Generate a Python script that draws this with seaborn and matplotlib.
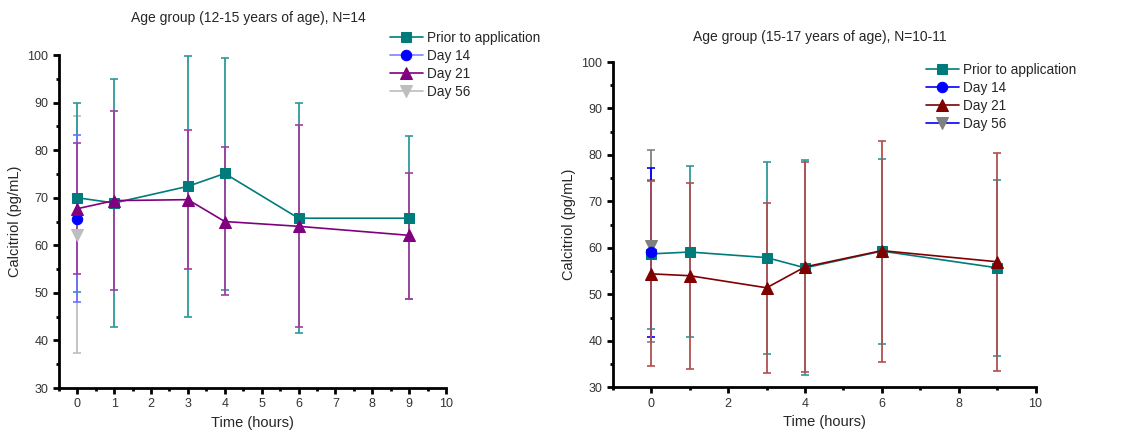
import numpy as np
import pandas as pd
import matplotlib
matplotlib.use('Agg')
import matplotlib.pyplot as plt
import seaborn as sns

sns.set_style('ticks')
plt.rcParams['font.family'] = ['Liberation Sans', 'DejaVu Sans']

# ---- left panel: 12-15 years ----
hours_a = [0, 1, 3, 4, 6, 9]
prior_a = [70.0, 68.9, 72.4, 75.1, 65.7, 65.7]
prior_a_hi = [89.9, 95.0, 99.8, 99.4, 89.9, 82.9]
prior_a_lo = [50.2, 42.8, 44.9, 50.7, 41.6, 48.8]
d21_a = [67.7, 69.4, 69.6, 65.0, 64.0, 62.1]
d21_a_hi = [81.5, 88.3, 84.3, 80.7, 85.2, 75.3]
d21_a_lo = [54.0, 50.6, 55.0, 49.5, 42.8, 48.8]
d14_a = [65.5]
d14_a_hi = [83.1]
d14_a_lo = [48.0]
d56_a = [62.1]
d56_a_hi = [87.2]
d56_a_lo = [37.4]

# ---- right panel: 15-17 years ----
hours_b = [0, 1, 3, 4, 6, 9]
prior_b = [58.7, 59.1, 57.9, 55.7, 59.3, 55.7]
prior_b_hi = [74.7, 77.6, 78.5, 79.0, 79.2, 74.7]
prior_b_lo = [42.5, 40.7, 37.1, 32.6, 39.3, 36.8]
d21_b = [54.4, 54.0, 51.4, 55.9, 59.4, 57.0]
d21_b_hi = [74.4, 73.9, 69.6, 78.5, 83.0, 80.4]
d21_b_lo = [34.6, 33.9, 33.0, 33.2, 35.5, 33.5]
d14_b = [59.0]
d14_b_hi = [77.2]
d14_b_lo = [40.9]
d56_b = [60.3]
d56_b_hi = [81.1]
d56_b_lo = [39.7]

labels = ['Prior to application', 'Day 14', 'Day 21', 'Day 56']
teal = '#007B7B'


def draw_series(ax, x, y, lo, hi, label, color, marker, line_color=None,
                err_color=None, ms=7.5):
    y = np.array(y)
    err = [y - np.array(lo), np.array(hi) - y]
    ax.errorbar(x, y, yerr=err, fmt='none', ecolor=err_color or color,
                elinewidth=1.3, capsize=3, capthick=1.2, zorder=2)
    df = pd.DataFrame({'t': x, 'v': y})
    sns.lineplot(data=df, x='t', y='v', ax=ax, color=line_color or color,
                 marker=marker, markersize=ms, markerfacecolor=color,
                 markeredgecolor=color, linewidth=1.2, label=label,
                 zorder=3)


def style_axes(ax, xlim, xmajor, xminor):
    ax.set_xlim(*xlim)
    ax.set_ylim(30, 100)
    ax.set_xticks(xmajor)
    ax.set_xticks(xminor, minor=True)
    ax.set_yticks(range(30, 101, 10))
    ax.set_yticks(range(35, 100, 10), minor=True)
    for s in ['top', 'right']:
        ax.spines[s].set_visible(False)
    for s in ['left', 'bottom']:
        ax.spines[s].set_linewidth(2)
        ax.spines[s].set_color('black')
    ax.tick_params(which='major', direction='out', length=4, width=2,
                   labelsize=9, colors='black', labelcolor='#333333')
    ax.tick_params(which='minor', direction='out', length=2.5, width=2,
                   colors='black')
    ax.set_xlabel('Time (hours)', fontsize=10.5)
    ax.set_ylabel('Calcitriol (pg/mL)', fontsize=10.5)


fig = plt.figure(figsize=(11.33, 4.4), dpi=100)
ax1 = fig.add_axes([0.052, 0.118, 0.3416, 0.757])
ax2 = fig.add_axes([0.541, 0.12, 0.373, 0.739])

draw_series(ax1, [0], d56_a, d56_a_lo, d56_a_hi, labels[3], '#BEBEBE',
            'v', ms=8)
draw_series(ax1, hours_a, prior_a, prior_a_lo, prior_a_hi, labels[0], teal,
            's', err_color='#2E9A9A')
draw_series(ax1, [0], d14_a, d14_a_lo, d14_a_hi, labels[1], '#0000FF', 'o',
            line_color='#8080FF', err_color='#7070FF')
draw_series(ax1, hours_a, d21_a, d21_a_lo, d21_a_hi, labels[2], '#800080',
            '^', err_color='#A040A0', ms=8)

draw_series(ax2, [0], d56_b, d56_b_lo, d56_b_hi, labels[3], '#808080', 'v',
            line_color='#0000FF', ms=8)
draw_series(ax2, hours_b, prior_b, prior_b_lo, prior_b_hi, labels[0], teal,
            's', err_color='#2E9A9A')
draw_series(ax2, [0], d14_b, d14_b_lo, d14_b_hi, labels[1], '#0000FF', 'o')
draw_series(ax2, hours_b, d21_b, d21_b_lo, d21_b_hi, labels[2], '#800000',
            '^', err_color='#B05050', ms=8)

style_axes(ax1, (-0.5, 10), range(0, 11), np.arange(-0.5, 10, 0.5))
style_axes(ax2, (-1, 10), range(0, 11, 2), range(-1, 10, 2))

for ax, title, ty in [(ax1, 'Age group (12-15 years of age), N=14', 18),
                      (ax2, 'Age group (15-17 years of age), N=10-11', 37)]:
    h, l = ax.get_legend_handles_labels()
    order = [l.index(n) for n in labels]
    if ax is ax1:
        anchor = (390 / 1133, 1 - 31 / 440)
    else:
        anchor = (926 / 1133, 1 - 63 / 440)
    ax.legend([h[i] for i in order], [l[i] for i in order],
              loc='upper left', bbox_to_anchor=anchor,
              bbox_transform=fig.transFigure, frameon=False, fontsize=9.8,
              handlelength=2.4, handletextpad=0.3, labelspacing=0.3,
              borderaxespad=0, borderpad=0)
    x0, x1 = ax.get_position().x0, ax.get_position().x1
    fig.text((x0 + x1) / 2 - 0.004, 1 - ty / 440, title, ha='center',
             va='center', fontsize=10)

fig.savefig('out.png', dpi=100)
